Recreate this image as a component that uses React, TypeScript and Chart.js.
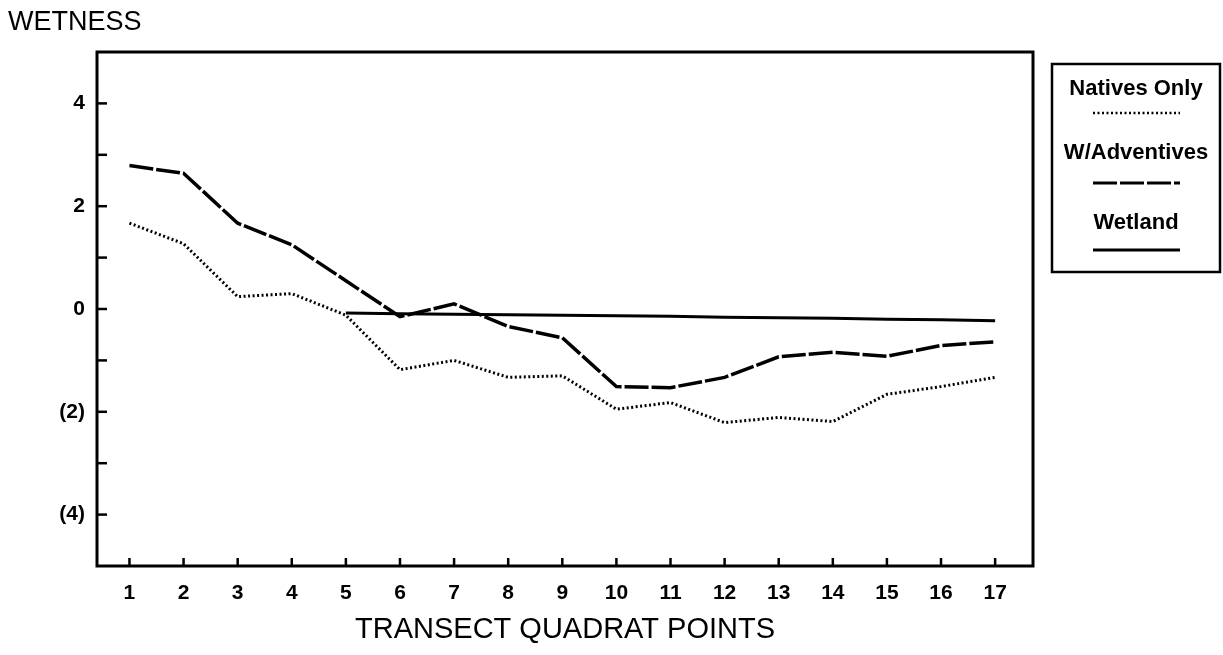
import React, { useEffect, useRef } from 'react';
import { Chart, registerables } from 'chart.js';

Chart.register(...registerables);

// ---- Data ----
const categories = [1, 2, 3, 4, 5, 6, 7, 8, 9, 10, 11, 12, 13, 14, 15, 16, 17];
const nativesOnly = [1.67, 1.27, 0.24, 0.3, -0.12, -1.18, -1.0, -1.33, -1.3, -1.95, -1.82, -2.21, -2.11, -2.19, -1.66, -1.51, -1.33];
const wAdventives = [2.79, 2.64, 1.67, 1.25, 0.55, -0.15, 0.1, -0.34, -0.56, -1.51, -1.53, -1.33, -0.93, -0.84, -0.92, -0.71, -0.64];
const wetland = [null, null, null, null, -0.08, -0.09, -0.1, -0.11, -0.12, -0.13, -0.14, -0.16, -0.17, -0.18, -0.2, -0.21, -0.23];
const seriesNames = ['Natives Only', 'W/Adventives', 'Wetland'];
const yTickValues = [-4, -3, -2, -1, 0, 1, 2, 3, 4];
const yTickLabels = ['(4)', '', '(2)', '', '0', '', '2', '', '4'];
const xTickLabels = ['1', '2', '3', '4', '5', '6', '7', '8', '9', '10', '11', '12', '13', '14', '15', '16', '17'];
const yAxisTitle = 'WETNESS';
const xAxisTitle = 'TRANSECT QUADRAT POINTS';

const W = 1223;
const H = 655;
const INK = '#000000';
const seriesDash: number[][] = [[2, 2.5], [24, 3], []];
const seriesWidth = [3, 3.5, 3];

const toPoints = (vals: (number | null)[]) => categories.map((c, i) => ({ x: c, y: vals[i] }));

const decorPlugin = {
  id: 'decor',
  afterDraw(chart: any) {
    const { ctx, chartArea } = chart;
    const xs = chart.scales.x;
    const ys = chart.scales.y;
    ctx.save();
    ctx.strokeStyle = INK;
    ctx.fillStyle = INK;
    ctx.setLineDash([]);
    // frame
    ctx.lineWidth = 3;
    ctx.strokeRect(chartArea.left, chartArea.top, chartArea.right - chartArea.left, chartArea.bottom - chartArea.top);
    // inward ticks
    ctx.lineWidth = 2.5;
    yTickValues.forEach((v) => {
      const py = ys.getPixelForValue(v);
      ctx.beginPath();
      ctx.moveTo(chartArea.left, py);
      ctx.lineTo(chartArea.left + 10, py);
      ctx.stroke();
    });
    categories.forEach((c) => {
      const px = xs.getPixelForValue(c);
      ctx.beginPath();
      ctx.moveTo(px, chartArea.bottom);
      ctx.lineTo(px, chartArea.bottom - 8);
      ctx.stroke();
    });
    // titles
    ctx.textBaseline = 'middle';
    ctx.textAlign = 'left';
    ctx.font = '27px "Liberation Sans", Arial, sans-serif';
    ctx.fillText(yAxisTitle, 8, 23);
    ctx.textAlign = 'center';
    ctx.font = '29px "Liberation Sans Narrow", "Liberation Sans", sans-serif';
    ctx.fillText(xAxisTitle, (chartArea.left + chartArea.right) / 2, 630);
    // legend
    const lx = 1052, ly = 64, lw = 168, lh = 208;
    ctx.lineWidth = 2.5;
    ctx.strokeRect(lx, ly, lw, lh);
    const cx = lx + lw / 2;
    const textY = [89, 153, 223];
    const lineY = [113, 183, 250];
    ctx.font = 'bold 22px "Liberation Sans", Arial, sans-serif';
    seriesNames.forEach((name, i) => {
      ctx.setLineDash([]);
      ctx.fillText(name, cx, textY[i]);
      ctx.lineWidth = i === 0 ? 2.5 : 3;
      ctx.setLineDash(seriesDash[i]);
      ctx.beginPath();
      ctx.moveTo(1093, lineY[i]);
      ctx.lineTo(1180, lineY[i]);
      ctx.stroke();
    });
    ctx.restore();
  },
};

export default function App() {
  const ref = useRef<HTMLCanvasElement | null>(null);
  useEffect(() => {
    if (!ref.current) return;
    const vals = [nativesOnly, wAdventives, wetland];
    const chart = new Chart(ref.current, {
      type: 'line',
      data: {
        datasets: seriesNames.map((name, i) => ({
          label: name,
          data: toPoints(vals[i]),
          borderColor: INK,
          borderWidth: seriesWidth[i],
          borderDash: seriesDash[i],
          pointRadius: 0,
          tension: 0,
          fill: false,
        })),
      },
      options: {
        responsive: false,
        animation: false,
        layout: { padding: { left: 0, top: 52, right: 190, bottom: 0 } },
        plugins: { legend: { display: false }, tooltip: { enabled: false }, title: { display: false } },
        scales: {
          x: {
            type: 'linear',
            min: 0.4,
            max: 17.7,
            afterBuildTicks: (s: any) => {
              s.ticks = categories.map((c) => ({ value: c }));
            },
            afterFit: (s: any) => {
              s.height = 89;
            },
            grid: { display: false, drawTicks: false },
            border: { display: false },
            ticks: {
              padding: 15,
              color: INK,
              maxRotation: 0,
              autoSkip: false,
              font: { family: '"Liberation Sans", Arial, sans-serif', size: 21, weight: 'bold' },
              callback: (v: any) => {
                const idx = categories.indexOf(Number(v));
                return idx >= 0 ? xTickLabels[idx] : '';
              },
            },
          },
          y: {
            type: 'linear',
            min: -5,
            max: 5,
            afterBuildTicks: (s: any) => {
              s.ticks = yTickValues.map((v) => ({ value: v }));
            },
            afterFit: (s: any) => {
              s.width = 97;
            },
            grid: { display: false, drawTicks: false },
            border: { display: false },
            ticks: {
              padding: 12,
              color: INK,
              autoSkip: false,
              font: { family: '"Liberation Sans", Arial, sans-serif', size: 21, weight: 'bold' },
              callback: (v: any) => {
                const idx = yTickValues.indexOf(Number(v));
                return idx >= 0 ? yTickLabels[idx] : '';
              },
            },
          },
        },
      },
      plugins: [decorPlugin],
    });
    return () => chart.destroy();
  }, []);
  return (
    <div style={{ position: 'fixed', left: 0, top: 0, width: W, height: H, background: '#fff' }}>
      <canvas ref={ref} width={W} height={H} />
    </div>
  );
}
